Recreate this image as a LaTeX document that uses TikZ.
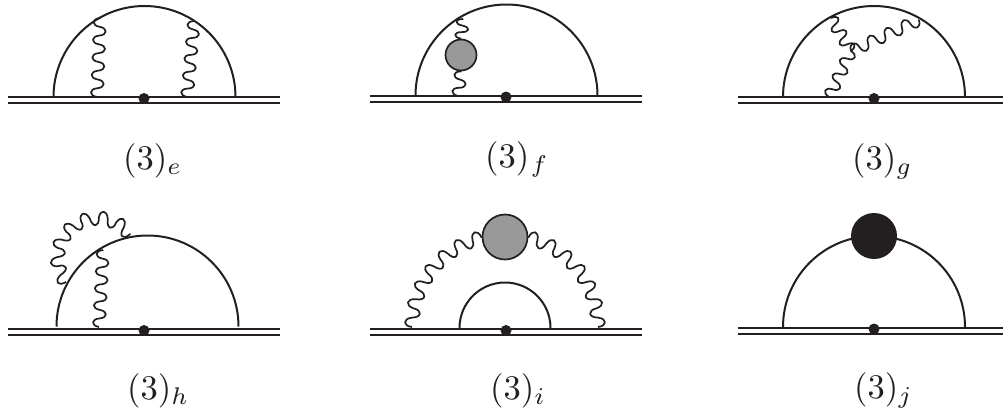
\documentclass[tikz,border=0pt]{standalone}
\usetikzlibrary{decorations.pathmorphing}
\definecolor{ink}{HTML}{231F20}
\definecolor{blob}{HTML}{999999}
\def\photonN{9}
\pgfdeclaredecoration{photonwave}{up}{
  \state{up}[width=\pgfdecoratedpathlength/\photonN-0.005pt,next state=down]{
    \pgfmathsetlengthmacro\wv{\pgfdecoratedpathlength/\photonN-0.005pt}
    \pgfmathsetlengthmacro\wa{0.12*\wv}
    \pgfmathsetlengthmacro\wb{0.88*\wv}
    \pgfmathsetlengthmacro\wh{1.33*\pgfdecorationsegmentamplitude}
    \pgfpathcurveto{\pgfpoint{\wa}{\wh}}{\pgfpoint{\wb}{\wh}}{\pgfpoint{\wv}{0pt}}
  }
  \state{down}[width=\pgfdecoratedpathlength/\photonN-0.005pt,next state=up]{
    \pgfmathsetlengthmacro\wv{\pgfdecoratedpathlength/\photonN-0.005pt}
    \pgfmathsetlengthmacro\wa{0.12*\wv}
    \pgfmathsetlengthmacro\wb{0.88*\wv}
    \pgfmathsetlengthmacro\wh{-1.33*\pgfdecorationsegmentamplitude}
    \pgfpathcurveto{\pgfpoint{\wa}{\wh}}{\pgfpoint{\wb}{\wh}}{\pgfpoint{\wv}{0pt}}
  }
  \state{final}{\pgfpathlineto{\pgfpointdecoratedpathlast}}
}
\tikzset{
  dline/.style={draw=ink,line width=2pt,double=white,double distance=4pt},
  fermion/.style={draw=ink,line width=2pt},
  halfwaves/.code={\def\photonN{#1}},
  photon/.style={draw=ink,line width=1.7pt,line join=round,halfwaves=#1,decorate,decoration={photonwave,amplitude=6.2pt}},
  vertexdot/.style={circle,fill=ink,inner sep=0pt,minimum size=11pt},
  greyblob/.style={circle,draw=ink,line width=1.7pt,fill=blob,inner sep=0pt},
  blackblob/.style={circle,fill=ink,inner sep=0pt,minimum size=46pt},
  lab/.style={anchor=base west,scale=3.45,inner sep=0pt,text=ink}
}
\begin{document}
\begin{tikzpicture}[x=1pt,y=1pt,yscale=-1]
\useasboundingbox (0,0) rectangle (1003,413);
\fill[white] (0,0) rectangle (1003,413);
% base lines and vertices
\foreach \n/\xl/\xr/\y/\xd/\yd in {e/8/280/100/144/98.5,f/370/642/98.5/506/97,g/738/1003/100/874/98.5,h/8/280/331.5/144/330.5,i/370/642/331.5/506/330.5,j/738/1003/330.5/874/329}{
  \coordinate (\n L) at (\xl,\y);
  \coordinate (\n R) at (\xr,\y);
  \draw[dline] (\n L) -- (\n R);
  \node[vertexdot] (\n dot) at (\xd,\yd) {};
}
% fermion arcs
\coordinate (ea) at (53.5,97);
\coordinate (fa) at (415.5,95.5);
\coordinate (ga) at (783,97);
\coordinate (ha) at (56.5,326.5);
\coordinate (ia) at (459.5,328);
\coordinate (ja) at (783,327);
\draw[fermion] (ea) arc[start angle=180,end angle=360,radius=91];
\draw[fermion] (fa) arc[start angle=180,end angle=360,radius=91];
\draw[fermion] (ga) arc[start angle=180,end angle=360,radius=91];
\draw[fermion] (ha) arc[start angle=180,end angle=360,radius=91];
\draw[fermion] (ia) arc[start angle=180,end angle=360,radius=45.5];
\draw[fermion] (ja) arc[start angle=180,end angle=360,radius=91];
% (3)e
\coordinate (e1b) at (97,97);
\coordinate (e1t) at (100,18);
\coordinate (e2b) at (187,97);
\coordinate (e2t) at (194,21);
\draw[photon=9] (e1b) -- (e1t);
\draw[photon=9] (e2b) -- (e2t);
% (3)f
\node[greyblob,minimum size=31pt] (fblob) at (461,55) {};
\coordinate (f1b) at (458,96);
\coordinate (f1t) at (463,19);
\draw[photon=3] (f1b) -- (fblob.south);
\draw[photon=3] (fblob.north) -- (f1t);
% (3)g
\coordinate (g1) at (829,97);
\coordinate (g2) at (831,18);
\coordinate (g3) at (919,20);
\coordinate (gm) at (851,51);
\draw[photon=6] (g1) -- (gm);
\draw[photon=5] (g2) -- (gm);
\draw[photon=8] (gm) -- (g3);
% (3)h
\coordinate (h1b) at (99,327);
\coordinate (h1t) at (103,250);
\draw[photon=9] (h1b) -- (h1t);
\coordinate (h2) at (66,282);
\draw[photon=14,decoration={amplitude=7pt}] (h2) arc[start angle=142.7,end angle=324,radius=39.5];
% (3)i
\node[greyblob,minimum size=45pt] (iblob) at (505,237) {};
\coordinate (i1) at (412,327);
\coordinate (i2) at (598,327);
\draw[photon=13,decoration={amplitude=7pt}] (i1) arc[start angle=180,end angle=256,radius=92];
\draw[photon=13,decoration={amplitude=-7pt}] (i2) arc[start angle=360,end angle=284,radius=92];
% (3)j
\node[blackblob] (jblob) at (874,236) {};
% labels
\node[lab] (le) at (122.5,169.5) {$(3)_e$};
\node[lab] (lf) at (484.5,167.5) {$(3)_{\mskip1mu f}$};
\node[lab] (lg) at (851.5,169.5) {$(3)_g$};
\node[lab] (lh) at (126.5,399.5) {$(3)_h$};
\node[lab] (li) at (489.5,399.5) {$(3)_i$};
\node[lab] (lj) at (853.5,398.5) {$(3)_j$};
\end{tikzpicture}
\end{document}
